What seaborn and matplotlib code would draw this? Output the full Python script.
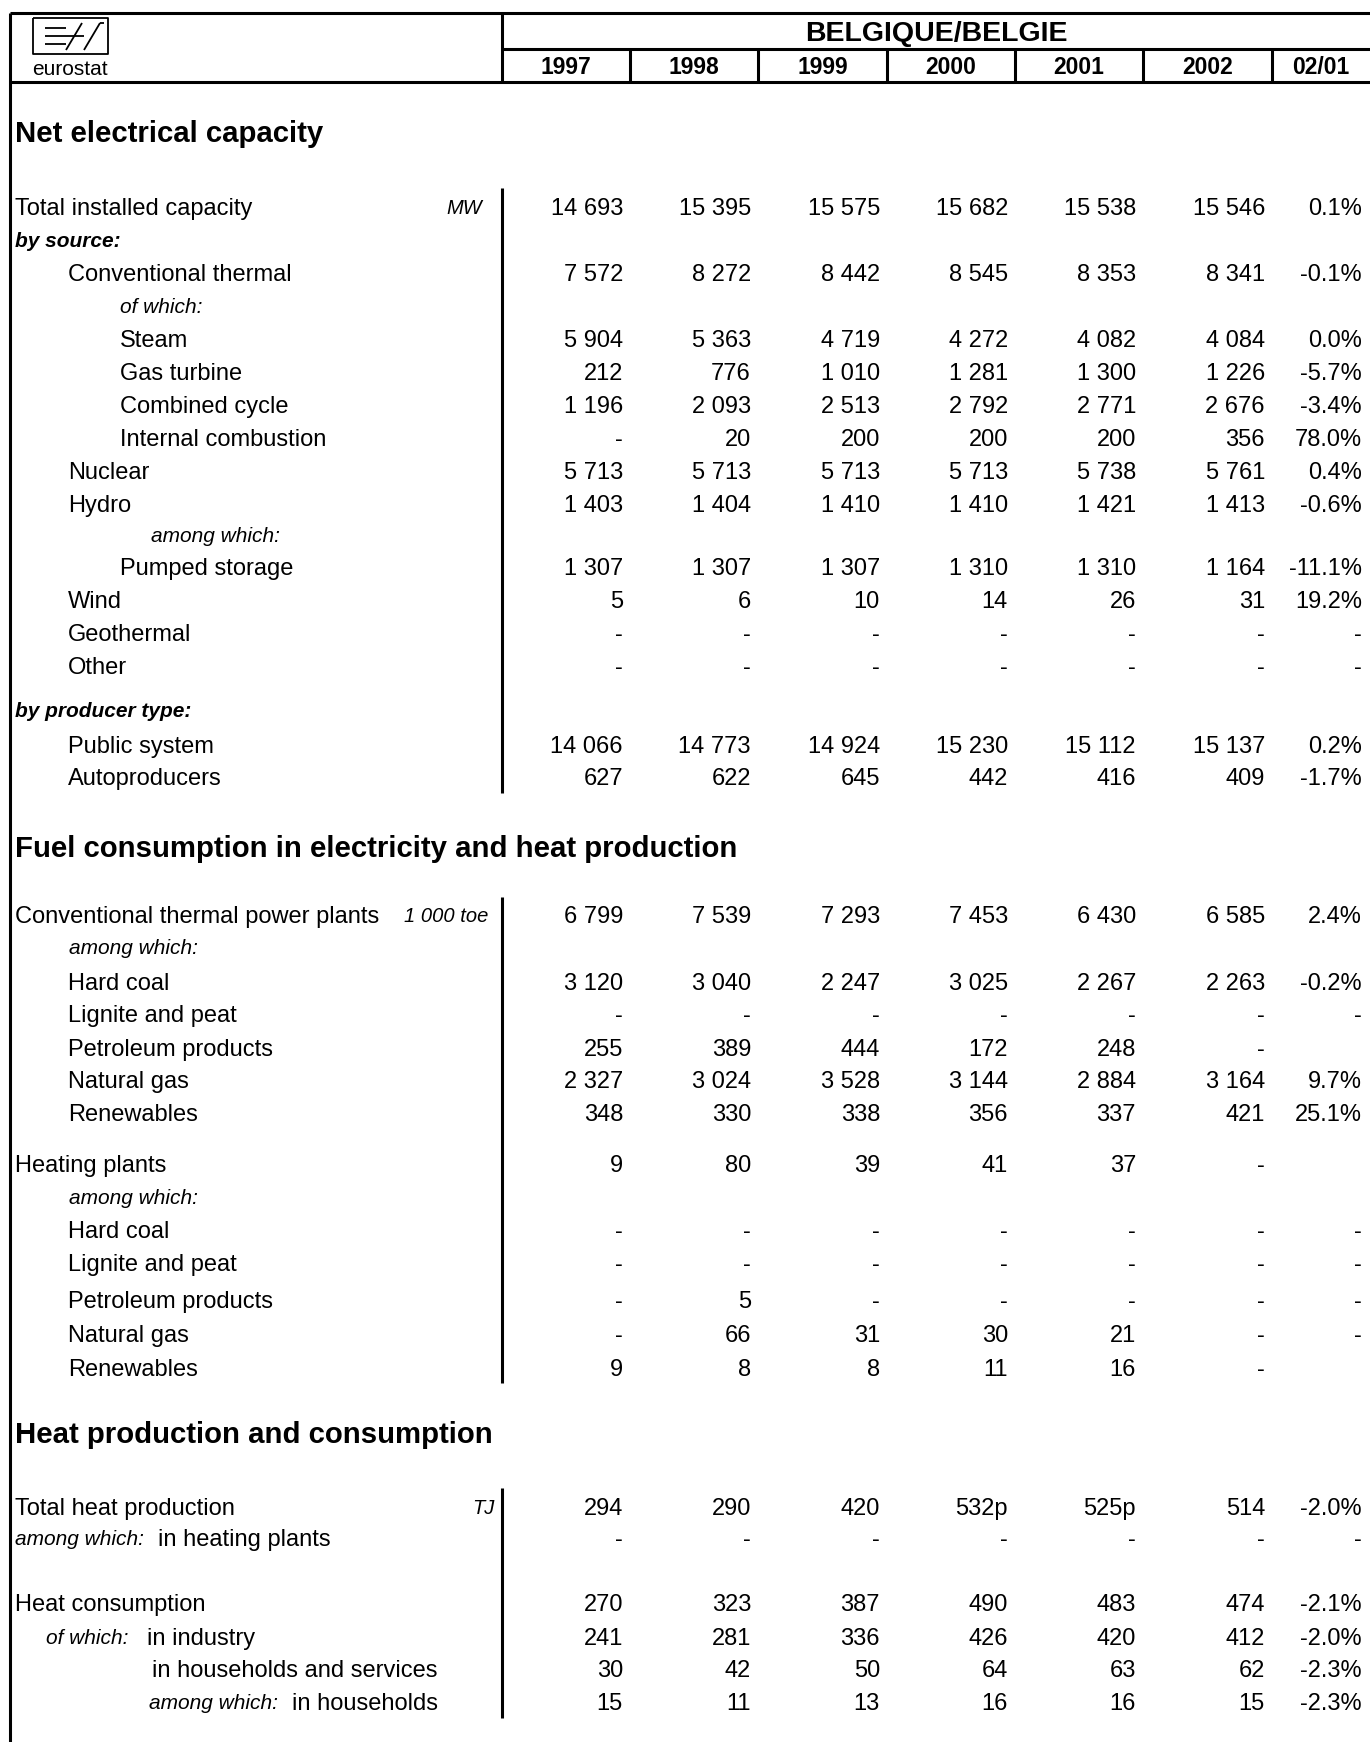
import matplotlib
matplotlib.use("Agg")
import matplotlib.pyplot as plt
import seaborn as sns

# ---------------------------------------------------------------------------
#   DATA
# ---------------------------------------------------------------------------

country = "BELGIQUE/BELGIE"
years = ["1997", "1998", "1999", "2000", "2001", "2002", "02/01"]

# Net electrical capacity (MW)
cap_title = "Net electrical capacity"
cap_labels = ["Total installed capacity", "by source:", "Conventional thermal", "of which:",
              "Steam", "Gas turbine", "Combined cycle", "Internal combustion", "Nuclear",
              "Hydro", "among which:", "Pumped storage", "Wind", "Geothermal", "Other",
              "by producer type:", "Public system", "Autoproducers"]
cap_values = [
    ["14 693", "15 395", "15 575", "15 682", "15 538", "15 546", "0.1%"],
    None,
    ["7 572", "8 272", "8 442", "8 545", "8 353", "8 341", "-0.1%"],
    None,
    ["5 904", "5 363", "4 719", "4 272", "4 082", "4 084", "0.0%"],
    ["212", "776", "1 010", "1 281", "1 300", "1 226", "-5.7%"],
    ["1 196", "2 093", "2 513", "2 792", "2 771", "2 676", "-3.4%"],
    ["-", "20", "200", "200", "200", "356", "78.0%"],
    ["5 713", "5 713", "5 713", "5 713", "5 738", "5 761", "0.4%"],
    ["1 403", "1 404", "1 410", "1 410", "1 421", "1 413", "-0.6%"],
    None,
    ["1 307", "1 307", "1 307", "1 310", "1 310", "1 164", "-11.1%"],
    ["5", "6", "10", "14", "26", "31", "19.2%"],
    ["-", "-", "-", "-", "-", "-", "-"],
    ["-", "-", "-", "-", "-", "-", "-"],
    None,
    ["14 066", "14 773", "14 924", "15 230", "15 112", "15 137", "0.2%"],
    ["627", "622", "645", "442", "416", "409", "-1.7%"],
]

# Fuel consumption (1 000 toe)
fuel_title = "Fuel consumption in electricity and heat production"
fuel_labels = ["Conventional thermal power plants", "among which:", "Hard coal",
               "Lignite and peat", "Petroleum products", "Natural gas", "Renewables",
               "Heating plants", "among which:", "Hard coal", "Lignite and peat",
               "Petroleum products", "Natural gas", "Renewables"]
fuel_values = [
    ["6 799", "7 539", "7 293", "7 453", "6 430", "6 585", "2.4%"],
    None,
    ["3 120", "3 040", "2 247", "3 025", "2 267", "2 263", "-0.2%"],
    ["-", "-", "-", "-", "-", "-", "-"],
    ["255", "389", "444", "172", "248", "-", ""],
    ["2 327", "3 024", "3 528", "3 144", "2 884", "3 164", "9.7%"],
    ["348", "330", "338", "356", "337", "421", "25.1%"],
    ["9", "80", "39", "41", "37", "-", ""],
    None,
    ["-", "-", "-", "-", "-", "-", "-"],
    ["-", "-", "-", "-", "-", "-", "-"],
    ["-", "5", "-", "-", "-", "-", "-"],
    ["-", "66", "31", "30", "21", "-", "-"],
    ["9", "8", "8", "11", "16", "-", ""],
]

# Heat production and consumption (TJ)
heat_title = "Heat production and consumption"
heat_notes = ["", "among which:", "", "of which:", "", "among which:"]
heat_labels = ["Total heat production", "in heating plants", "Heat consumption",
               "in industry", "in households and services", "in households"]
heat_values = [
    ["294", "290", "420", "532p", "525p", "514", "-2.0%"],
    ["-", "-", "-", "-", "-", "-", "-"],
    ["270", "323", "387", "490", "483", "474", "-2.1%"],
    ["241", "281", "336", "426", "420", "412", "-2.0%"],
    ["30", "42", "50", "64", "63", "62", "-2.3%"],
    ["15", "11", "13", "16", "16", "15", "-2.3%"],
]

units = ["MW", "1 000 toe", "TJ"]

# ---------------------------------------------------------------------------
#   LAYOUT
# ---------------------------------------------------------------------------

W, H = 1370, 1742
col_edges = [502, 630, 758, 887, 1015, 1143, 1272]
val_right = [e - 7 for e in col_edges[1:]] + [1362]

# x, fontsize, weight, style for each row kind
kinds = {
    "n0": (15, 17, "normal", "normal"),
    "n1": (68, 17, "normal", "normal"),
    "n2": (120, 17, "normal", "normal"),
    "bi": (15, 15, "bold", "italic"),
    "i1": (69, 15, "normal", "italic"),
    "i2": (120, 15, "normal", "italic"),
    "i3": (151, 15, "normal", "italic"),
}

cap_kind = ["n0", "bi", "n1", "i2", "n2", "n2", "n2", "n2", "n1", "n1", "i3", "n2",
            "n1", "n1", "n1", "bi", "n1", "n1"]
cap_y = [207, 240, 273, 306, 339, 372, 405, 438, 471, 504, 535, 567, 600, 633, 666,
         710, 745, 777]
fuel_kind = ["n0", "i1", "n1", "n1", "n1", "n1", "n1", "n0", "i1", "n1", "n1", "n1",
             "n1", "n1"]
fuel_y = [915, 947, 982, 1014, 1048, 1080, 1113, 1164, 1197, 1230, 1263, 1300, 1334,
          1368]
heat_y = [1507, 1538, 1603, 1637, 1669, 1702]
heat_note_x = [15, 15, 15, 46, 15, 149]
heat_label_x = [15, 158, 15, 147, 152, 292]

title_y = [131, 846, 1432]
unit_pos = [(482, 207), (488, 915), (495, 1507)]
dividers = [(188, 793), (897, 1383), (1488, 1718)]

sns.set_theme(style="white")
plt.rcParams["font.family"] = ["Liberation Sans", "DejaVu Sans"]

fig = plt.figure(figsize=(W / 100, H / 100), dpi=100)
ax = fig.add_axes([0, 0, 1, 1])
ax.set_xlim(0, W)
ax.set_ylim(H, 0)
ax.axis("off")


def em(pt):
    return pt * 100 / 72


def put(x, y, s, pt, weight="normal", style="normal", ha="left"):
    # y is the visual centre of the cap height
    ax.text(x, y + 0.358 * em(pt), s, fontsize=pt, fontweight=weight, fontstyle=style,
            ha=ha, va="baseline", color="black")


def put_values(y, vals):
    for xr, v in zip(val_right, vals):
        if v:
            put(xr, y, v, 17, ha="right")


lw = 2.2

# --- frame and header ------------------------------------------------------
ax.plot([10, W], [13, 13], color="black", lw=lw, solid_capstyle="butt")
ax.plot([10, 10], [13, H], color="black", lw=lw, solid_capstyle="butt")
ax.plot([502, W], [49, 49], color="black", lw=lw, solid_capstyle="butt")
ax.plot([10, W], [82, 82], color="black", lw=lw, solid_capstyle="butt")
ax.plot([502, 502], [13, 82], color="black", lw=lw, solid_capstyle="butt")
for x in col_edges[1:]:
    ax.plot([x, x], [49, 82], color="black", lw=lw, solid_capstyle="butt")

put((502 + W) / 2, 31, country, 20.5, weight="bold", ha="center")
centres = [(a + b) / 2 for a, b in zip(col_edges, col_edges[1:] + [W])]
for cx, yr in zip(centres, years):
    put(cx, 66, yr, 16.5, weight="bold", ha="center")

# eurostat logo
logo = dict(color="black", lw=1.3, solid_capstyle="butt")
ax.plot([33, 108, 108, 33, 33], [18, 18, 54, 54, 18], **logo)
for yb, xe in [(28, 66), (36, 72), (44, 66)]:
    ax.plot([45, xe], [yb, yb], **logo)
ax.plot([66, 82], [50, 23], **logo)
ax.plot([72, 84], [36, 36], **logo)
ax.plot([84, 100], [50, 23], **logo)
ax.plot([100, 104], [23, 23], **logo)
ax.text(70, 75, "eurostat", fontsize=15, ha="center", va="baseline", color="black")

# --- section titles, units, dividers ----------------------------------------
for t, ty in zip([cap_title, fuel_title, heat_title], title_y):
    put(15, ty, t, 21.2, weight="bold")
for u, (ux, uy) in zip(units, unit_pos):
    put(ux, uy, u, 14.5, style="italic", ha="right")
for y0, y1 in dividers:
    ax.plot([502, 502], [y0, y1], color="black", lw=lw, solid_capstyle="butt")

# --- rows -------------------------------------------------------------------
for labels, values, kind_list, ys in [(cap_labels, cap_values, cap_kind, cap_y),
                                      (fuel_labels, fuel_values, fuel_kind, fuel_y)]:
    for lab, vals, k, y in zip(labels, values, kind_list, ys):
        x, pt, wt, st = kinds[k]
        put(x, y, lab, pt, weight=wt, style=st)
        if vals:
            put_values(y, vals)

for note, lab, vals, y, nx, lx in zip(heat_notes, heat_labels, heat_values, heat_y,
                                      heat_note_x, heat_label_x):
    if note:
        put(nx, y, note, 15, style="italic")
    put(lx, y, lab, 17)
    put_values(y, vals)

fig.savefig("out.png", dpi=100, facecolor="white")
